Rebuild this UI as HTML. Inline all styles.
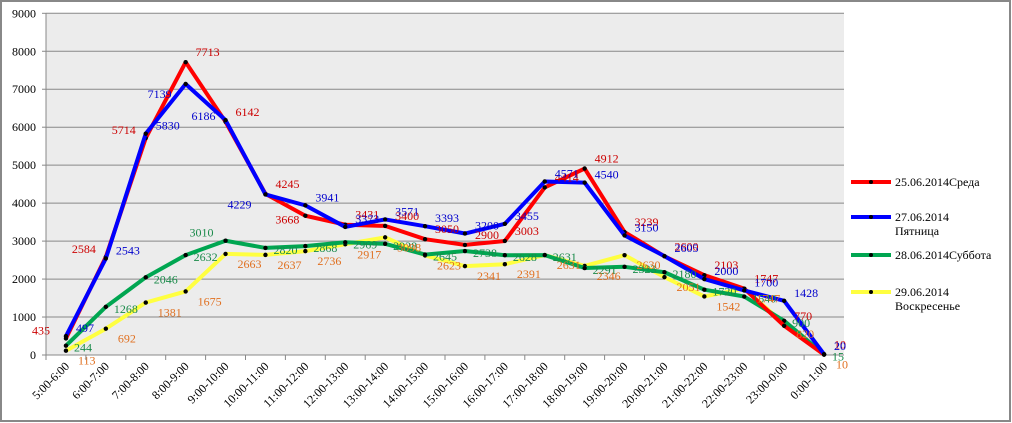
<!DOCTYPE html>
<html><head><meta charset="utf-8"><style>
body{margin:0;background:#fff;}
svg{display:block;font-family:"Liberation Serif",serif;}
</style></head><body>
<svg id="c" width="1012" height="423">
<rect x="1" y="1" width="1009" height="420" fill="#fff" stroke="#888" stroke-width="2"/>
<rect x="46" y="13" width="798" height="342" fill="#ececec"/>
<g id="grid"></g><g id="series"></g><g id="labels"></g><g id="axes"></g><g id="legend"></g>
</svg>
<script>
const categories=["5:00-6:00","6:00-7:00","7:00-8:00","8:00-9:00","9:00-10:00","10:00-11:00","11:00-12:00","12:00-13:00","13:00-14:00","14:00-15:00","15:00-16:00","16:00-17:00","17:00-18:00","18:00-19:00","19:00-20:00","20:00-21:00","21:00-22:00","22:00-23:00","23:00-0:00","0:00-1:00"];
const wed=[435,2584,5714,7713,6142,4245,3668,3431,3400,3050,2900,3003,4414,4912,3239,2600,2103,1747,770,10];
const fri=[497,2543,5830,7139,6186,4229,3941,3373,3571,3393,3200,3455,4571,4540,3150,2605,2000,1700,1428,20];
const sat=[244,1268,2046,2632,3010,2820,2868,2969,2928,2645,2738,2628,2631,2291,2323,2180,1720,1540,900,15];
const sun=[113,692,1381,1675,2663,2637,2736,2917,3098,2623,2341,2391,2631,2346,2630,2051,1542,1747,820,10];
const yTicks=[0,1000,2000,3000,4000,5000,6000,7000,8000,9000];
const seriesNames=["25.06.2014Среда","27.06.2014 Пятница","28.06.2014Суббота","29.06.2014 Воскресенье"];
const NS="http://www.w3.org/2000/svg";
const x0=46,pw=798,y0=355,y1=13.3;
const X=i=>x0+pw/categories.length*(i+0.5);
const Y=v=>y0-(v/9000)*(y0-y1);
function mk(tag,attrs,parent){const e=document.createElementNS(NS,tag);for(const k in attrs)e.setAttribute(k,attrs[k]);parent.appendChild(e);return e;}
const grid=document.getElementById('grid'),axes=document.getElementById('axes');
yTicks.forEach(t=>{
 const l=mk('line',{x1:x0,x2:x0+pw,y1:Y(t),y2:Y(t),stroke:'#888','stroke-width':1},grid);
 
 
 const tx=mk('text',{x:36,y:Y(t)+4,'text-anchor':'end','font-size':12,fill:'#000'},axes);
 tx.textContent=t;
 
 
 mk('line',{x1:x0-4,x2:x0,y1:Y(t),y2:Y(t),stroke:'#888'},axes);
});
mk('line',{x1:x0,x2:x0,y1:y1,y2:y0,stroke:'#888'},axes);
categories.forEach((c,i)=>{
 mk('line',{x1:x0+pw/20*i,x2:x0+pw/20*i,y1:y0,y2:y0+5,stroke:'#888'},axes);
 const tx=mk('text',{x:X(i)+4,y:y0+12,'text-anchor':'end','font-size':12,transform:`rotate(-45 ${X(i)+4} ${y0+12})`},axes);
 tx.textContent=c;
 
 
});
const defs=[[wed,'#ff0000','#cc0000'],[fri,'#0000ff','#0000cc'],[sat,'#00a651','#1a8a4a'],[sun,'#ffff40','#e07020']];
function offs(si,i){
 if(si===0) return i<3?[-34,-4]:(i===6?[-30,8]:[10,-6]);
 if(si===1) return i===3||i===5?[-38,14]:(i===4?[-34,0]:[10,-4]);
 if(si===2) return i===4?[-36,-4]:[8,6];
 return [12,14];
}
const sg=document.getElementById('series'),lg=document.getElementById('labels');
const order=[3,2,0,1];
order.forEach(si=>{
 const [d,col]=defs[si];
 const p=mk('polyline',{points:d.map((v,i)=>X(i)+','+Y(v)).join(' '),fill:'none',stroke:col,'stroke-width':4,'stroke-linejoin':'round'},sg);
 
 
 d.forEach((v,i)=>{mk('circle',{cx:X(i),cy:Y(v),r:2.2,fill:'#000'},sg);});
});
defs.forEach(([d,col,lc],si)=>{
 d.forEach((v,i)=>{
  const o=offs(si,i);
  const t=mk('text',{x:X(i)+o[0],y:Y(v)+o[1],'font-size':12,fill:lc},lg);
  t.textContent=v;
  
  
 });
});
const leg=document.getElementById('legend');
const ly=[182,217,255,292];
defs.forEach(([d,col],si)=>{
 const g=mk('g',{},leg);
 
 
 mk('line',{x1:851,x2:891,y1:ly[si],y2:ly[si],stroke:col,'stroke-width':4},g);
 mk('circle',{cx:871,cy:ly[si],r:2,fill:'#000'},g);
 const parts=seriesNames[si].split(' ');
 parts.forEach((p,k)=>{const t=mk('text',{x:895,y:ly[si]+4+k*14,'font-size':12},g);t.textContent=p;});
});
</script>
</body></html>
